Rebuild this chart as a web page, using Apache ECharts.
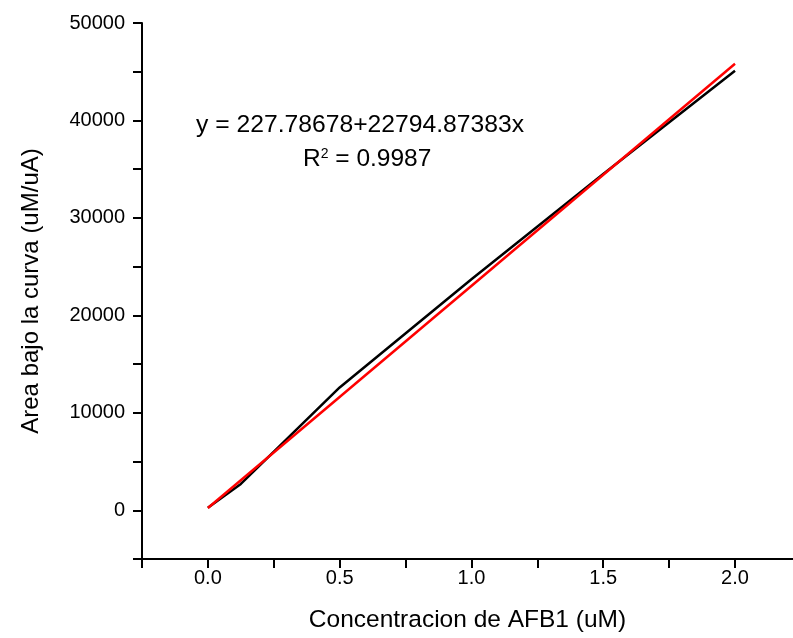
<!DOCTYPE html>
<html>
<head>
<meta charset="utf-8">
<script src="https://cdn.jsdelivr.net/npm/echarts@6/dist/echarts.min.js"></script>
<style>
  html, body { margin: 0; padding: 0; background: #fff; }
  #chart { width: 793px; height: 638px; }
</style>
</head>
<body>
<div id="chart"></div>
<script>
const concX = [0, 0.125, 0.5, 1.0, 1.5, 2.0]
const areaY = [250, 2700, 12600, 23700, 34500, 45100]
// linear fit (red), end points
const fitX = [0, 2.0]
const fitY = [228, 45818]

const eqText = 'y = 227.78678+22794.87383x'
const r2Value = ' = 0.9987'

const FONT = 'Liberation Sans, Arial, sans-serif'

const chart = echarts.init(document.getElementById('chart'), null, { renderer: 'canvas' })

chart.setOption({
  animation: false,
  grid: { left: 142, right: 0, top: 23, bottom: 78 },
  xAxis: {
    type: 'value', min: -0.25, max: 2.22, interval: 0.25,
    name: 'Concentracion de AFB1 (uM)', nameLocation: 'middle', nameGap: 49,
    nameTextStyle: { color: '#000', fontSize: 24.5, fontFamily: FONT },
    axisLine: { onZero: false, lineStyle: { color: '#000', width: 2 } },
    axisTick: { inside: false, length: 9, lineStyle: { color: '#000', width: 2 } },
    axisLabel: {
      color: '#000', fontSize: 20, fontFamily: FONT, margin: 9,
      showMaxLabel: false,
      formatter: (v) => (v >= 0 && Math.abs(v * 2 - Math.round(v * 2)) < 1e-6) ? v.toFixed(1) : '',
    },
    splitLine: { show: false },
  },
  yAxis: {
    type: 'value', min: -5000, max: 50000, interval: 5000,
    name: 'Area bajo la curva (uM/uA)', nameLocation: 'middle', nameGap: 99,
    nameTextStyle: { color: '#000', fontSize: 24, fontFamily: FONT },
    axisLine: { onZero: false, lineStyle: { color: '#000', width: 2 } },
    axisTick: { inside: false, length: 9, lineStyle: { color: '#000', width: 2 } },
    axisLabel: {
      color: '#000', fontSize: 20, fontFamily: FONT, margin: 17,
      formatter: (v) => (v >= 0 && v % 10000 === 0) ? String(v) : '',
    },
    splitLine: { show: false },
  },
  graphic: [
    {
      type: 'text', left: 196, top: 113,
      style: { text: eqText, fill: '#000', font: '24.7px ' + FONT },
    },
    {
      type: 'text', left: 303, top: 147,
      style: {
        text: '{b|R}{s|2}{b|' + r2Value + '}',
        fill: '#000',
        rich: {
          b: { fontSize: 24.5, fontFamily: FONT, fill: '#000', verticalAlign: 'bottom' },
          s: { fontSize: 14, fontFamily: FONT, fill: '#000', verticalAlign: 'top', padding: [0, 0, 11, 0] },
        },
      },
    },
  ],
  series: [
    {
      name: 'datos', type: 'line', showSymbol: false, symbol: 'none',
      lineStyle: { color: '#000', width: 2.5 },
      data: concX.map((x, i) => [x, areaY[i]]),
      z: 2,
    },
    {
      name: 'ajuste', type: 'line', showSymbol: false, symbol: 'none',
      lineStyle: { color: '#ff0000', width: 2.5 },
      data: fitX.map((x, i) => [x, fitY[i]]),
      z: 3,
    },
  ],
})
</script>
</body>
</html>
